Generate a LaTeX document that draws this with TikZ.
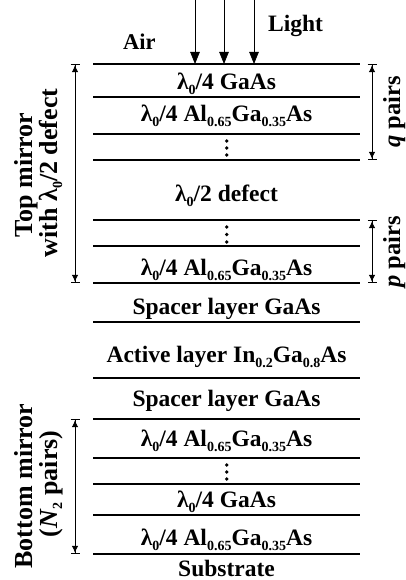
\documentclass[tikz,border=0pt]{standalone}
\usepackage{fontspec}
\setmainfont{Liberation Serif}
\usetikzlibrary{arrows.meta}
\newcommand{\sbs}[1]{\raisebox{-5pt}{\fontsize{14}{14}\selectfont #1}}
\newcommand{\lam}{λ\sbs{0}}
\begin{document}
\begin{tikzpicture}[x=1pt,y=-1pt,
  layer/.style={line width=2.2pt},
  lbl/.style={anchor=base,inner sep=0pt,font=\fontsize{23.5}{24}\selectfont\bfseries},
  rlbl/.style={anchor=base,inner sep=0pt,rotate=90,font=\fontsize{24.5}{25}\selectfont\bfseries},
  blbl/.style={rlbl,font=\fontsize{26}{26}\selectfont\bfseries},
  dim/.style={line width=0.8pt,{Bar[width=9pt,line width=1.2pt]Latex[length=7pt,width=6.5pt]}-{Latex[length=7pt,width=6.5pt]Bar[width=9pt,line width=1.2pt]}},
  ray/.style={line width=0.8pt,-{Triangle[length=12pt,width=9.5pt]}},
  dotc/.style={fill=black,draw=none}]
\useasboundingbox (0,0) rectangle (406,580);
% layer lines
\foreach \y [count=\i] in {64,97,134,160,220,246,283,322,378,419,458,484,515,554}{
  \coordinate (L\i) at (93,\y);
  \coordinate (R\i) at (360,\y);
  \draw[layer] (L\i) -- (R\i);
}
% layer labels
\node[lbl] (t1) at (226.5,90) {\lam/4 GaAs};
\node[lbl] (t2) at (226.5,122) {\lam/4 Al\sbs{0.65}Ga\sbs{0.35}As};
\node[lbl] (t3) at (226.5,201) {\lam/2 defect};
\node[lbl] (t4) at (226.5,275) {\lam/4 Al\sbs{0.65}Ga\sbs{0.35}As};
\node[lbl] (t5) at (226.5,314) {Spacer layer GaAs};
\node[lbl] (t6) at (226.5,362) {Active layer In\sbs{0.2}Ga\sbs{0.8}As};
\node[lbl] (t7) at (226.5,406) {Spacer layer GaAs};
\node[lbl] (t8) at (226.5,446) {\lam/4 Al\sbs{0.65}Ga\sbs{0.35}As};
\node[lbl] (t9) at (226.5,507) {\lam/4 GaAs};
\node[lbl] (t10) at (226.5,545) {\lam/4 Al\sbs{0.65}Ga\sbs{0.35}As};
\node[lbl] (t11) at (226.5,576) {Substrate};
% dots
\foreach \y in {141,148,155, 227,234.5,242, 465,472,479}{
  \fill[dotc] (226.7,\y) circle (1.9pt);
}
% light
\node[lbl,anchor=base west] (light) at (268,32) {Light};
\node[lbl,anchor=base west,font=\fontsize{22.5}{24}\selectfont\bfseries] (air) at (123,50) {Air};
\foreach \x [count=\i] in {195,224,254}{
  \coordinate (a\i) at (\x,0);
  \coordinate (b\i) at (\x,64);
  \draw[ray] (a\i) -- (b\i);
}
% left dimension arrows
\coordinate (tl1) at (75,64); \coordinate (tl2) at (75,283);
\draw[dim] (tl1) -- (tl2);
\coordinate (bl1) at (75,419); \coordinate (bl2) at (75,554);
\draw[dim] (bl1) -- (bl2);
\node[blbl] (top1) at (32,175) {Top mirror};
\node[blbl] (top2) at (57,173) {with \lam/2 defect};
\node[blbl] (bot1) at (32,486) {Bottom mirror};
\node[blbl] (bot2) at (57,484) {(\textit{N}\sbs{2} pairs)};
% right dimension arrows
\coordinate (q1) at (372,64); \coordinate (q2) at (372,160);
\draw[dim] (q1) -- (q2);
\coordinate (p1) at (372,220); \coordinate (p2) at (372,283);
\draw[dim] (p1) -- (p2);
\node[rlbl] (qp) at (400,112) {\textit{q} pairs};
\node[rlbl] (pp) at (400,252) {\textit{p} pairs};
\end{tikzpicture}
\end{document}
